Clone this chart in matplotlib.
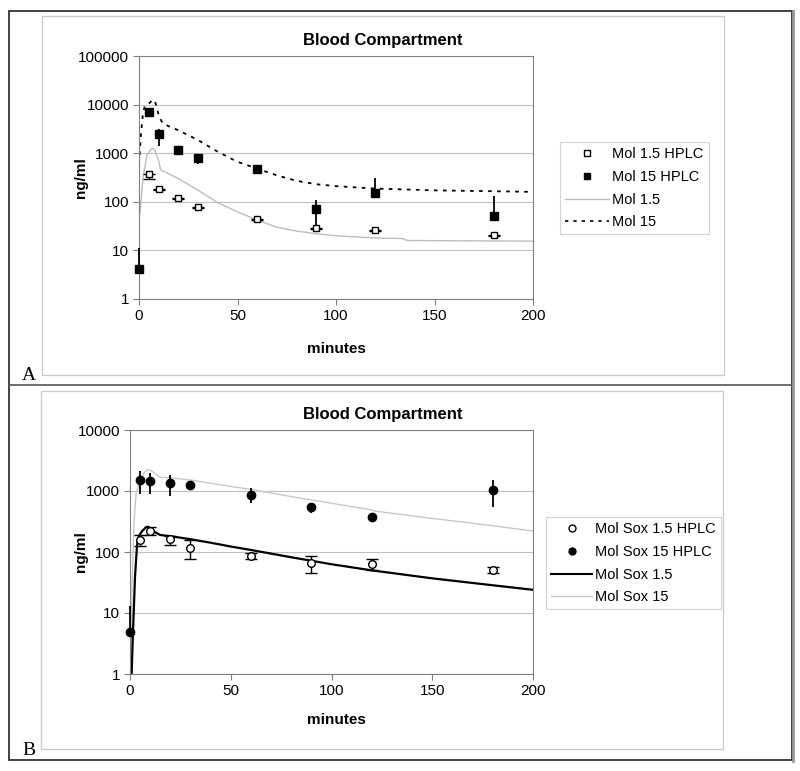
import numpy as np
import matplotlib
matplotlib.use('Agg')
import matplotlib.pyplot as plt
from matplotlib.lines import Line2D
from matplotlib.patches import Rectangle

plt.rcParams['font.family'] = ['Liberation Sans', 'DejaVu Sans']

# ---- panel A data ----
a_hplc_t = [5, 10, 20, 30, 60, 90, 120, 180]
mol15_hplc_lo = [380, 187, 120, 79, 45, 29, 26, 21]  # Mol 1.5 HPLC
mol15_hplc_err = [90, 8, 6, 4, 3, 2, 1.5, 1.5]

a_fill_t = [0, 5, 10, 20, 30, 60, 90, 120, 180]
mol15_hplc_hi = [4.1, 7100, 2450, 1150, 810, 470, 72, 155, 50]  # Mol 15 HPLC
mol15_err_lo = [0, 1600, 1010, 0, 200, 0, 42, 0, 0]
mol15_err_hi = [7, 0, 650, 0, 0, 0, 38, 155, 80]

a_line_t = [0.5, 2, 4, 6, 7, 8, 10, 11, 15, 20, 30, 40, 50, 60, 70, 80, 90, 100,
            120, 134, 136, 160, 200]
mol_1_5 = [57, 300, 900, 1200, 1250, 1150, 700, 450, 380, 300, 173, 96, 62, 42, 30,
           25, 22, 20, 18, 17.5, 16, 15.8, 15.5]

a_dot_t = [0, 1, 2, 3, 4, 5, 6, 7, 8, 9, 10, 12, 15, 20, 30, 40, 50, 60, 70, 80, 90,
           100, 120, 150, 180, 200]
mol_15 = [600, 2500, 6500, 9500, 10000, 10500, 11500, 12600, 12000, 9000, 6000,
          4100, 3600, 2960, 1860, 1070, 665, 480, 350, 270, 230, 210, 187, 172, 165, 160]

# ---- panel B data ----
b_open_t = [5, 10, 20, 30, 60, 90, 120, 180]
sox15_lo = [157, 220, 161, 118, 87, 67, 64, 51]  # Mol Sox 1.5 HPLC
sox15_lo_dn = [30, 33, 31, 42, 10, 22, 13, 5]
sox15_lo_up = [33, 40, 21, 39, 8, 20, 13, 5]

b_fill_t = [0, 5, 10, 20, 30, 60, 90, 120, 180]
sox15_hi = [4.8, 1515, 1470, 1370, 1260, 870, 540, 375, 1030]  # Mol Sox 15 HPLC
sox15_hi_dn = [0, 625, 580, 530, 0, 225, 110, 0, 490]
sox15_hi_up = [8, 635, 530, 460, 0, 230, 0, 0, 490]

b_blk_t = [0.7, 1.5, 2.5, 3.5, 4.5, 6, 8, 9, 10, 12, 15, 20, 30, 40, 50, 60, 80, 100,
           120, 150, 180, 200]
sox_1_5 = [0.8, 5, 40, 130, 185, 220, 255, 260, 245, 215, 190, 182, 162, 142, 123,
           108, 82, 63, 50, 37, 28.5, 24]

b_gray_t = [0.5, 1, 2, 3, 5, 7, 9, 11, 15, 20, 30, 40, 60, 80, 100, 120, 121, 150,
            180, 200]
sox_15 = [1, 30, 300, 900, 1500, 2000, 2260, 2100, 1670, 1650, 1515, 1340, 1060, 810,
          630, 490, 470, 355, 270, 220]

yticks = [1, 10, 100, 1000, 10000, 100000]
xticks = [0, 50, 100, 150, 200]

W, H = 800, 771
fig = plt.figure(figsize=(W / 100, H / 100), dpi=100)


def fx(px):
    return px / W


def fy(py):
    return 1 - py / H


# outer frame, divider and inner chart boxes
fig.add_artist(Rectangle((fx(9), fy(760)), fx(783), 749 / H, fill=False,
                         ec='#222222', lw=1.2, transform=fig.transFigure))
fig.add_artist(Line2D([fx(9), fx(792)], [fy(385), fy(385)], color='#555555', lw=1.2,
                      transform=fig.transFigure))
fig.add_artist(Line2D([fx(793), fx(793)], [fy(11), fy(761)], color='#999999', lw=2,
                      transform=fig.transFigure))
fig.add_artist(Rectangle((fx(42), fy(375)), fx(682), 359 / H, fill=False,
                         ec='#cccccc', lw=1, transform=fig.transFigure))
fig.add_artist(Rectangle((fx(41), fy(749)), fx(682), 358 / H, fill=False,
                         ec='#cccccc', lw=1, transform=fig.transFigure))
fig.text(fx(22), fy(380), 'A', family='Liberation Serif', fontsize=14, ha='left', va='baseline')
fig.text(fx(22), fy(755), 'B', family='Liberation Serif', fontsize=14, ha='left', va='baseline')


def style(ax, ylim_top, ticks, ylab_y, xlab_y):
    ax.set_yscale('log')
    ax.set_xlim(0, 200)
    ax.set_ylim(1, ylim_top)
    ax.set_yticks(ticks)
    ax.set_yticklabels([str(t) for t in ticks])
    ax.minorticks_off()
    ax.set_xticks(xticks)
    ax.tick_params(direction='out', length=4, color='#808080', labelsize=11, pad=3)
    for s in ax.spines.values():
        s.set_color('#808080')
    ax.yaxis.grid(True, color='#c0c0c0', lw=0.8)
    ax.set_axisbelow(True)
    ax.set_xlabel('minutes', fontsize=11, fontweight='bold')
    ax.set_ylabel('ng/ml', fontsize=11, fontweight='bold')
    ax.yaxis.set_label_coords(fx(88), fy(ylab_y), transform=fig.transFigure)
    ax.xaxis.set_label_coords(fx(336), fy(xlab_y), transform=fig.transFigure)


# ---- panel A ----
axA = fig.add_axes([fx(139), fy(299), fx(394), 243 / H])
style(axA, 100000, yticks, 178, 342)
axA.plot(a_line_t, mol_1_5, color='#bdbdbd', lw=1, label='Mol 1.5', zorder=2)
axA.plot(a_dot_t, mol_15, color='black', lw=1.3, ls=(0, (2, 3)), label='Mol 15', zorder=2)
axA.errorbar(a_hplc_t, mol15_hplc_lo, yerr=[mol15_hplc_err, [0] * 8], fmt='s',
             mfc='white', mec='black', ms=5, mew=1, ecolor='black', elinewidth=1,
             capsize=4, label='Mol 1.5 HPLC', zorder=3)
axA.errorbar(a_fill_t, mol15_hplc_hi, yerr=[mol15_err_lo, mol15_err_hi], fmt='s',
             color='black', ms=6, ecolor='black', elinewidth=1.3, capsize=0,
             label='Mol 15 HPLC', zorder=3, clip_on=False)
fig.text(fx(383), fy(41), 'Blood Compartment', fontsize=12, fontweight='bold',
         ha='center', va='center')
hA = [Line2D([], [], ls='none', marker='s', mfc='white', mec='black', ms=5),
      Line2D([], [], ls='none', marker='s', color='black', ms=5),
      Line2D([], [], color='#bdbdbd', lw=1),
      Line2D([], [], color='black', lw=1.2, ls=(0, (2, 3)))]
legA = axA.legend(hA, ['Mol 1.5 HPLC', 'Mol 15 HPLC', 'Mol 1.5', 'Mol 15'],
                  loc='upper left', bbox_to_anchor=(fx(560), fy(142)),
                  bbox_transform=fig.transFigure, fontsize=10.5, frameon=True,
                  fancybox=False, edgecolor='#c8c8c8', handlelength=3.0,
                  borderpad=0.35, labelspacing=0.6, handletextpad=0.25,
                  borderaxespad=0)
legA.get_frame().set_linewidth(0.8)

# ---- panel B ----
axB = fig.add_axes([fx(130), fy(674), fx(403), 244 / H])
style(axB, 10000, yticks[:5], 552, 713)
axB.plot(b_gray_t, sox_15, color='#c8c8c8', lw=1, label='Mol Sox 15', zorder=2)
axB.plot(b_blk_t, sox_1_5, color='black', lw=1.6, label='Mol Sox 1.5', zorder=2)
axB.errorbar(b_open_t, sox15_lo, yerr=[sox15_lo_dn, sox15_lo_up], fmt='o',
             mfc='white', mec='black', ms=5.5, mew=1, ecolor='black', elinewidth=1,
             capsize=4, label='Mol Sox 1.5 HPLC', zorder=3)
axB.errorbar(b_fill_t, sox15_hi, yerr=[sox15_hi_dn, sox15_hi_up], fmt='o',
             color='black', ms=6, ecolor='black', elinewidth=1.3, capsize=0,
             label='Mol Sox 15 HPLC', zorder=3, clip_on=False)
fig.text(fx(383), fy(414), 'Blood Compartment', fontsize=12, fontweight='bold',
         ha='center', va='center')
hB = [Line2D([], [], ls='none', marker='o', mfc='white', mec='black', ms=5),
      Line2D([], [], ls='none', marker='o', color='black', ms=5),
      Line2D([], [], color='black', lw=1.5),
      Line2D([], [], color='#c8c8c8', lw=1)]
legB = axB.legend(hB, ['Mol Sox 1.5 HPLC', 'Mol Sox 15 HPLC', 'Mol Sox 1.5', 'Mol Sox 15'],
                  loc='upper left', bbox_to_anchor=(fx(546), fy(517)),
                  bbox_transform=fig.transFigure, fontsize=10.5, frameon=True,
                  fancybox=False, edgecolor='#c8c8c8', handlelength=2.8,
                  borderpad=0.35, labelspacing=0.6, handletextpad=0.2,
                  borderaxespad=0)
legB.get_frame().set_linewidth(0.8)

fig.savefig('out.png', dpi=100)
